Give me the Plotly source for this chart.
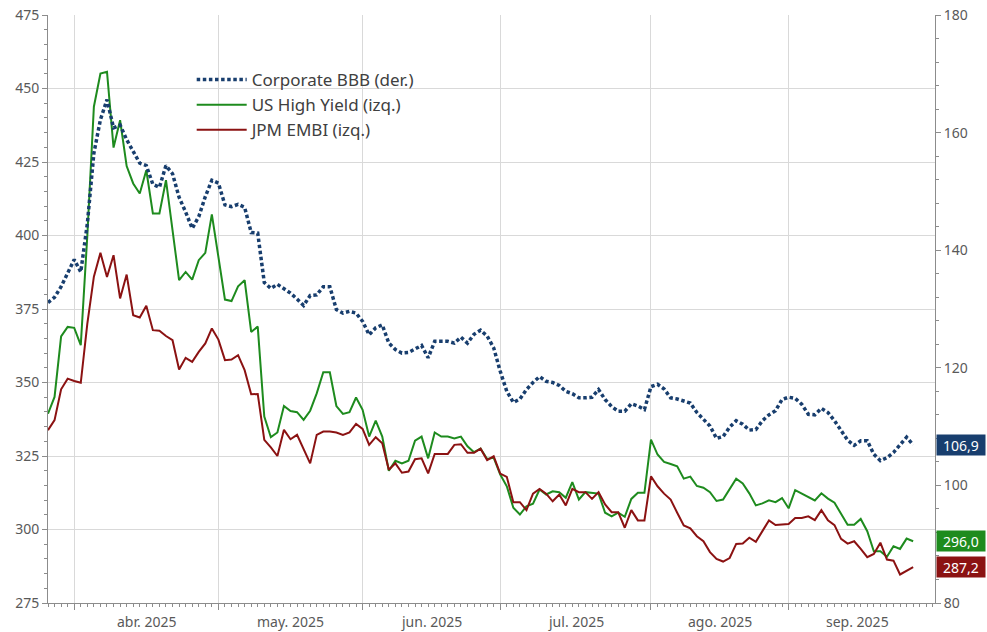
import pandas as pd
import plotly.graph_objects as go

# ---------------- data ----------------
dates = pd.bdate_range("2025-03-26", "2025-09-26")

us_high_yield = [
    339.4, 345.1, 365.7, 368.9, 368.6, 362.7, 400.0, 443.8, 455.1, 455.7,
    429.9, 439.2, 423.6, 417.7, 414.3, 422.2, 407.5, 407.5, 418.8, 402.0,
    384.8, 387.6, 385.0, 391.6, 394.1, 407.2, 393.0, 378.2, 377.7, 382.7,
    384.8, 367.2, 369.0, 338.4, 331.4, 333.0, 342.0, 340.3, 339.9, 337.3,
    340.4, 346.3, 353.5, 353.5, 342.0, 339.3, 339.9, 344.9, 340.7, 331.6,
    337.0, 331.6, 320.0, 323.4, 322.5, 323.4, 330.2, 331.6, 324.2, 333.0,
    331.6, 331.6, 331.0, 331.6, 328.3, 326.3, 327.5, 324.0, 324.4, 318.7,
    314.7, 307.4, 305.1, 307.9, 308.8, 313.6, 311.9, 313.0, 312.7, 310.8,
    316.1, 310.2, 312.7, 312.5, 312.2, 305.7, 304.5, 305.7, 304.3, 310.4,
    312.5, 312.5, 330.6, 325.5, 323.0, 322.3, 321.5, 317.3, 318.0, 314.8,
    314.2, 312.7, 309.7, 310.2, 313.6, 317.3, 315.7, 312.3, 308.2, 308.9,
    309.9, 309.3, 310.7, 307.2, 313.4, 312.3, 311.1, 309.9, 312.3, 310.5,
    309.1, 305.3, 301.6, 301.6, 303.6, 299.4, 292.6, 292.6, 290.7, 294.3,
    293.4, 296.9, 296.0,
]

jpm_embi = [
    333.8, 337.2, 347.7, 351.3, 350.5, 349.9, 370.0, 386.0, 394.1, 385.9,
    393.3, 378.6, 386.7, 372.9, 372.1, 376.1, 367.8, 367.6, 365.8, 364.4,
    354.4, 358.4, 357.0, 360.4, 363.3, 368.4, 364.6, 357.6, 357.8, 359.3,
    354.2, 346.0, 346.1, 330.5, 327.9, 325.0, 333.9, 330.7, 332.2, 327.1,
    322.5, 332.2, 333.3, 333.3, 333.0, 332.2, 333.0, 335.9, 334.2, 328.8,
    331.4, 329.3, 320.3, 322.5, 319.3, 319.7, 323.9, 324.2, 319.1, 325.7,
    325.7, 325.7, 328.8, 329.0, 326.1, 326.1, 327.5, 323.6, 324.9, 319.0,
    317.9, 309.3, 309.3, 306.6, 312.2, 313.8, 312.2, 309.6, 311.9, 308.2,
    313.8, 312.7, 312.7, 310.4, 312.7, 308.5, 305.9, 305.9, 300.6, 306.6,
    303.1, 303.1, 318.1, 314.7, 312.2, 310.2, 305.7, 301.4, 300.4, 297.7,
    296.0, 292.3, 290.0, 289.1, 290.3, 295.1, 295.2, 297.2, 295.8, 299.4,
    303.1, 301.5, 301.7, 301.9, 303.9, 303.9, 304.5, 303.2, 306.6, 303.1,
    301.5, 296.8, 295.2, 296.0, 293.4, 290.6, 291.7, 295.5, 289.8, 289.4,
    284.7, 286.0, 287.2,
]

corporate_bbb = [
    131.1, 132.0, 133.8, 136.0, 138.4, 136.3, 144.5, 156.5, 162.2, 165.6,
    160.8, 161.3, 158.8, 156.8, 154.8, 154.4, 151.2, 150.7, 154.4, 153.0,
    149.0, 146.5, 143.7, 145.7, 149.1, 151.9, 151.4, 147.7, 147.4, 147.8,
    147.3, 143.0, 142.9, 134.5, 133.5, 134.2, 133.4, 132.7, 131.7, 130.6,
    132.3, 132.4, 133.8, 133.8, 129.9, 129.3, 129.6, 129.3, 127.9, 125.6,
    126.8, 127.3, 124.2, 123.1, 122.5, 122.6, 123.2, 123.8, 121.7, 124.5,
    124.5, 124.5, 124.2, 125.2, 124.2, 125.7, 126.4, 125.4, 123.4, 119.4,
    116.0, 114.1, 114.7, 116.3, 117.5, 118.5, 117.7, 117.5, 117.0, 116.0,
    115.6, 114.9, 114.9, 115.0, 116.3, 114.6, 113.4, 112.6, 112.6, 113.9,
    113.5, 112.9, 116.8, 117.2, 116.4, 114.9, 114.7, 114.3, 114.0, 112.4,
    111.3, 110.1, 108.0, 108.3, 109.9, 111.0, 110.4, 109.4, 109.5, 111.0,
    112.0, 112.7, 114.6, 115.0, 114.8, 113.8, 112.1, 112.0, 113.1, 112.4,
    111.0, 109.3, 107.7, 106.8, 107.6, 107.6, 105.3, 104.2, 104.7, 105.6,
    106.8, 108.2, 106.9,
]

series_names = ["Corporate BBB (der.)", "US High Yield (izq.)", "JPM EMBI (izq.)"]
month_ticks = ["2025-04-01", "2025-05-01", "2025-06-02", "2025-07-01", "2025-08-01", "2025-09-01"]
month_labels = ["abr. 2025", "may. 2025", "jun. 2025", "jul. 2025", "ago. 2025", "sep. 2025"]
# label anchor dates (middle of each month's visible span)
month_label_pos = ["2025-04-16", "2025-05-16", "2025-06-16 12:00", "2025-07-16 12:00",
                   "2025-08-15 12:00", "2025-09-15 12:00"]

# ---------------- style ----------------
BLUE = "#183E6E"
GREEN = "#1E8B1E"
RED = "#8B1212"
FONT = "Noto Sans"
TICKC = "#595959"
AXC = "#8C8C8C"
GRIDC = "#D9D9D9"

fig = go.Figure()
fig.add_trace(go.Scatter(x=dates, y=corporate_bbb, name=series_names[0], yaxis="y2",
                         mode="lines", line=dict(color=BLUE, width=3.5, dash="3.5px,2.6px")))
fig.add_trace(go.Scatter(x=dates, y=us_high_yield, name=series_names[1], yaxis="y",
                         mode="lines", line=dict(color=GREEN, width=2)))
fig.add_trace(go.Scatter(x=dates, y=jpm_embi, name=series_names[2], yaxis="y",
                         mode="lines", line=dict(color=RED, width=2)))

# end-value labels on the right
for vals, yref, col in [(corporate_bbb, "y2", BLUE), (us_high_yield, "y", GREEN), (jpm_embi, "y", RED)]:
    v = vals[-1]
    fig.add_annotation(x=1, xref="paper", xanchor="left", xshift=1,
                       y=v, yref=yref, yanchor="middle",
                       text=f"{v:.1f}".replace(".", ","), showarrow=False,
                       font=dict(family=FONT, size=14, color="white"),
                       bgcolor=col, borderpad=2, width=44, height=16)

# month labels centred in each month
for pos, lab in zip(month_label_pos, month_labels):
    fig.add_annotation(x=pos, xref="x", y=0, yref="paper", yanchor="top", yshift=-7,
                       text=lab, showarrow=False,
                       font=dict(family=FONT, size=14, color=TICKC))

fig.update_layout(
    width=987, height=632,
    margin=dict(l=48, r=52, t=15, b=29),
    paper_bgcolor="white", plot_bgcolor="white",
    font=dict(family=FONT, size=14, color=TICKC),
    showlegend=True,
    legend=dict(x=0.162, y=0.92, xanchor="left", yanchor="top",
                font=dict(family=FONT, size=17, color="#404040"),
                bgcolor="rgba(0,0,0,0)", itemwidth=50, tracegroupgap=0),
    xaxis=dict(
        type="date", automargin=False,
        range=["2025-03-26", "2025-10-01 08:00"],
        rangebreaks=[dict(bounds=["sat", "mon"])],
        tickmode="array", tickvals=month_ticks, ticktext=[""] * len(month_ticks),
        ticks="outside", ticklen=6, tickcolor=AXC,
        showgrid=True, gridcolor=GRIDC, gridwidth=1,
        showline=True, linecolor=AXC, linewidth=1,
        minor=dict(tickmode="linear", tick0="2025-03-26", dtick=86400000,
                   ticks="outside", ticklen=3, tickcolor=AXC, showgrid=False),
        zeroline=False, fixedrange=True,
    ),
    yaxis=dict(
        automargin=False,
        range=[275, 475], tickmode="linear", tick0=275, dtick=25,
        ticks="outside", ticklen=5, tickcolor=AXC,
        showgrid=True, gridcolor=GRIDC, gridwidth=1,
        showline=True, linecolor=AXC, linewidth=1,
        tickfont=dict(family=FONT, size=14, color=TICKC),
        minor=dict(tickmode="linear", tick0=275, dtick=5, ticks="outside",
                   ticklen=3, tickcolor=AXC, showgrid=False),
        zeroline=False,
    ),
    yaxis2=dict(
        automargin=False,
        range=[80, 180], tickmode="linear", tick0=80, dtick=20,
        overlaying="y", side="right",
        ticks="outside", ticklen=5, tickcolor=AXC,
        showgrid=False,
        showline=True, linecolor=AXC, linewidth=1,
        tickfont=dict(family=FONT, size=14, color=TICKC),
        minor=dict(tickmode="linear", tick0=80, dtick=4, ticks="outside",
                   ticklen=3, tickcolor=AXC, showgrid=False),
        zeroline=False,
    ),
)

fig.write_html("out.html", config={"displayModeBar": False},
               post_script="document.body.style.margin='0px';")
